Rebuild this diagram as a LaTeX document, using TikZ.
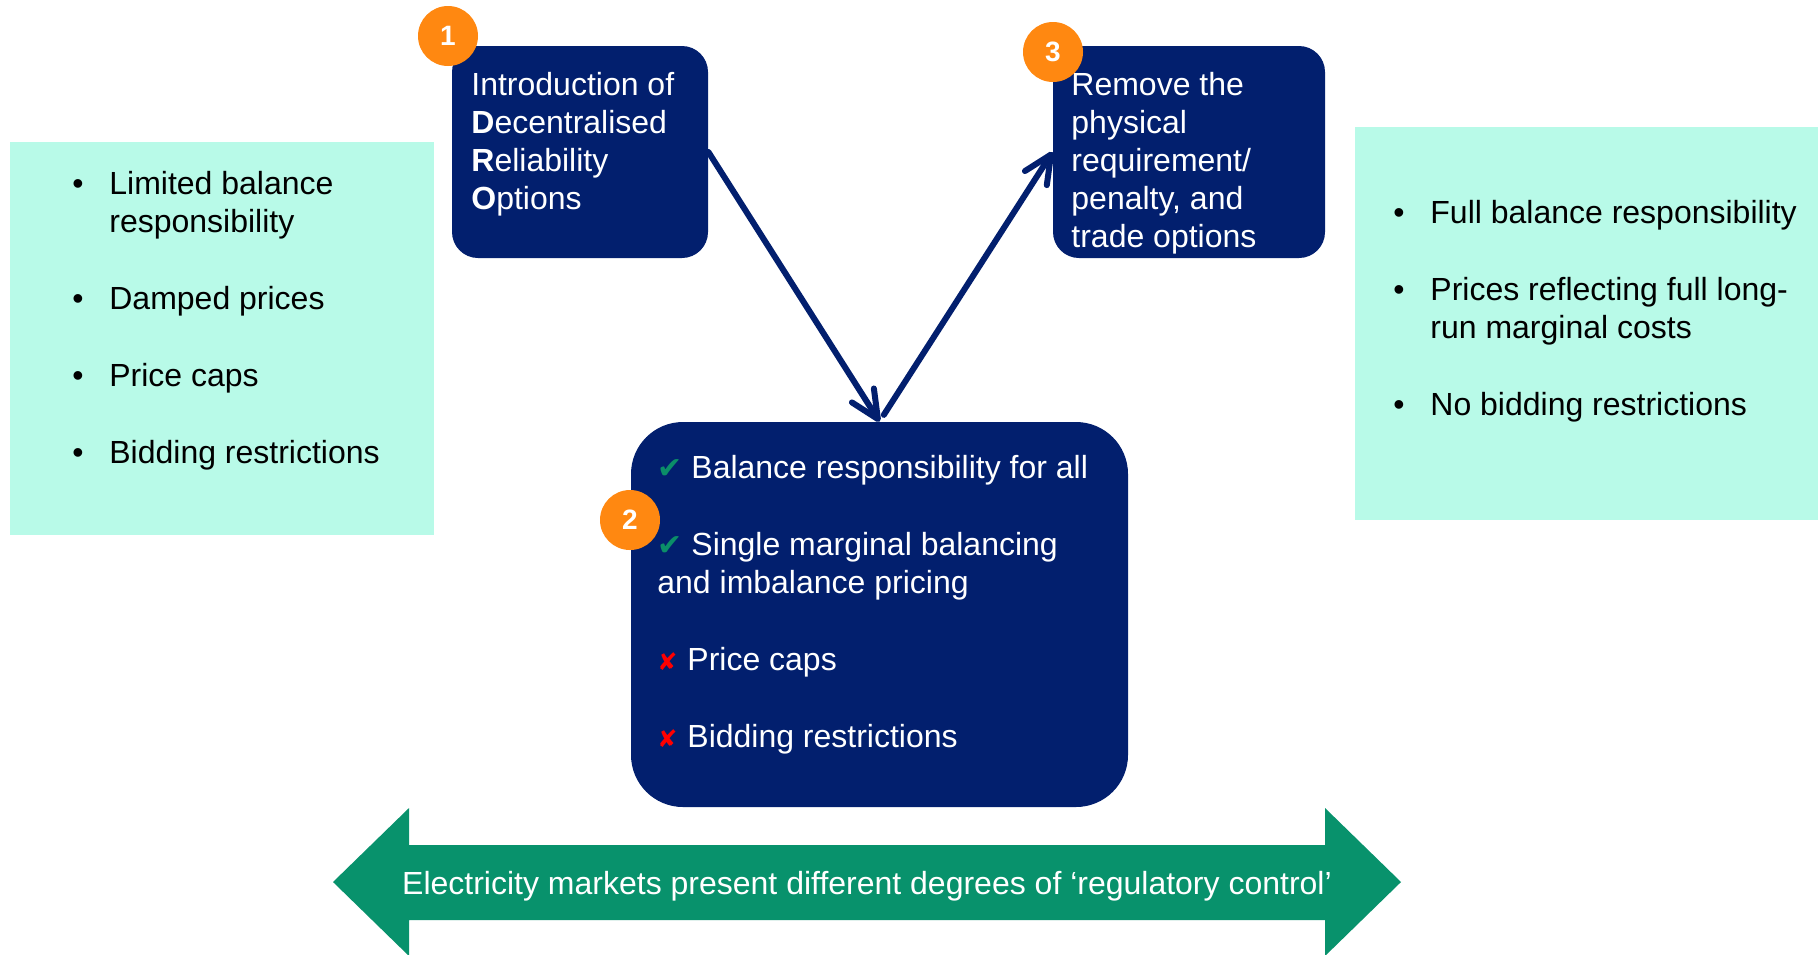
\documentclass[tikz,border=0pt]{standalone}
\usepackage{fontspec}
\setmainfont{Liberation Sans}
\newfontfamily\symfont{DejaVu Sans}
\usepackage{xcolor}
\usetikzlibrary{positioning,arrows.meta}

\definecolor{navy}{HTML}{021F6E}
\definecolor{mint}{HTML}{B8FAE8}
\definecolor{bandgreen}{HTML}{08926C}
\definecolor{badgeorange}{HTML}{FF8811}
\definecolor{tickgreen}{HTML}{0B8E68}

\newcommand{\yesmark}{\makebox[17pt][l]{\symfont\fontsize{15}{19}\selectfont\color{tickgreen}\char"2714}}
\newcommand{\nomark}{\makebox[15pt][l]{\symfont\fontsize{12}{19}\selectfont\color{red}\char"2718}}
\newcommand{\bul}{\makebox[18.5pt][l]{\textbullet}}

\begin{document}
\begin{tikzpicture}[x=0.5pt,y=-0.5pt,
    every node/.style={inner sep=0pt},
    txt/.style={font=\fontsize{16}{19}\selectfont, anchor=base west},
    mintbox/.style={fill=mint, minimum height=196.5pt},
    navybox/.style={fill=navy, rounded corners=13pt},
    badge/.style={circle, fill=badgeorange, minimum size=30pt, text=white, font=\fontsize{14}{15}\selectfont\bfseries},
    flow/.style={draw=navy, line width=3pt, line cap=round, -{Straight Barb[length=14pt,width=13pt,round]}}]
    \useasboundingbox (0,0) rectangle (1818,954);

    % Side panels
    \node[mintbox, minimum width=212pt] (leftbox) at (222,338.5) {};
    \node[mintbox, minimum width=231.5pt] (rightbox) at (1586.5,323.5) {};

    \node[txt] (leftlist) at (72,194) {\begin{tabular}[t]{@{}l@{}l@{}}
        \bul & Limited balance\\
             & responsibility\\[19.5pt]
        \bul & Damped prices\\[19.5pt]
        \bul & Price caps\\[19.5pt]
        \bul & Bidding restrictions
    \end{tabular}};
    \node[txt] (rightlist) at (1393,223) {\begin{tabular}[t]{@{}l@{}l@{}}
        \bul & Full balance responsibility\\[19.5pt]
        \bul & Prices reflecting full long-\\
             & run marginal costs\\[19.5pt]
        \bul & No bidding restrictions
    \end{tabular}};

    % Steps
    \node[navybox, minimum width=128pt, minimum height=106pt] (box1) at (580,152) {};
    \node[navybox, minimum width=136pt, minimum height=106pt] (box3) at (1189,152) {};
    \node[navybox, rounded corners=26pt, minimum width=248.5pt, minimum height=192.5pt] (box2) at (879.5,614.5) {};

    \node[txt, text=white] (text1) at (471,95) {\begin{tabular}[t]{@{}l@{}}
        Introduction of\\
        \textbf{D}ecentralised\\
        \textbf{R}eliability\\
        \textbf{O}ptions
    \end{tabular}};
    \node[txt, text=white] (text3) at (1071,95) {\begin{tabular}[t]{@{}l@{}}
        Remove the\\
        physical\\
        requirement/\\
        penalty, and\\
        trade options
    \end{tabular}};
    \node[txt, text=white] (text2) at (657,478) {\begin{tabular}[t]{@{}l@{}}
        \yesmark Balance responsibility for all\\[19.5pt]
        \yesmark Single marginal balancing\\
        and imbalance pricing\\[19.5pt]
        \nomark Price caps\\[19.5pt]
        \nomark Bidding restrictions
    \end{tabular}};

    \draw[flow] (box1.east) -- (box2.north);
    \draw[flow, shorten <=4pt] (box2.north) -- (box3.west);

    % Numbers
    \node[badge] (num1) at (448,36) {1};
    \node[badge] (num2) at (630,520) {2};
    \node[badge] (num3) at (1053,52) {3};

    % Double arrow
    \fill[bandgreen] (333,882) -- (409,808) -- (409,845) -- (1325,845) -- (1325,808) -- (1401,882)
        -- (1325,956) -- (1325,920) -- (409,920) -- (409,956) -- cycle;
    \node[txt, anchor=base, text=white] (band) at (867,894) {Electricity markets present different degrees of ‘regulatory control’};
\end{tikzpicture}
\end{document}
